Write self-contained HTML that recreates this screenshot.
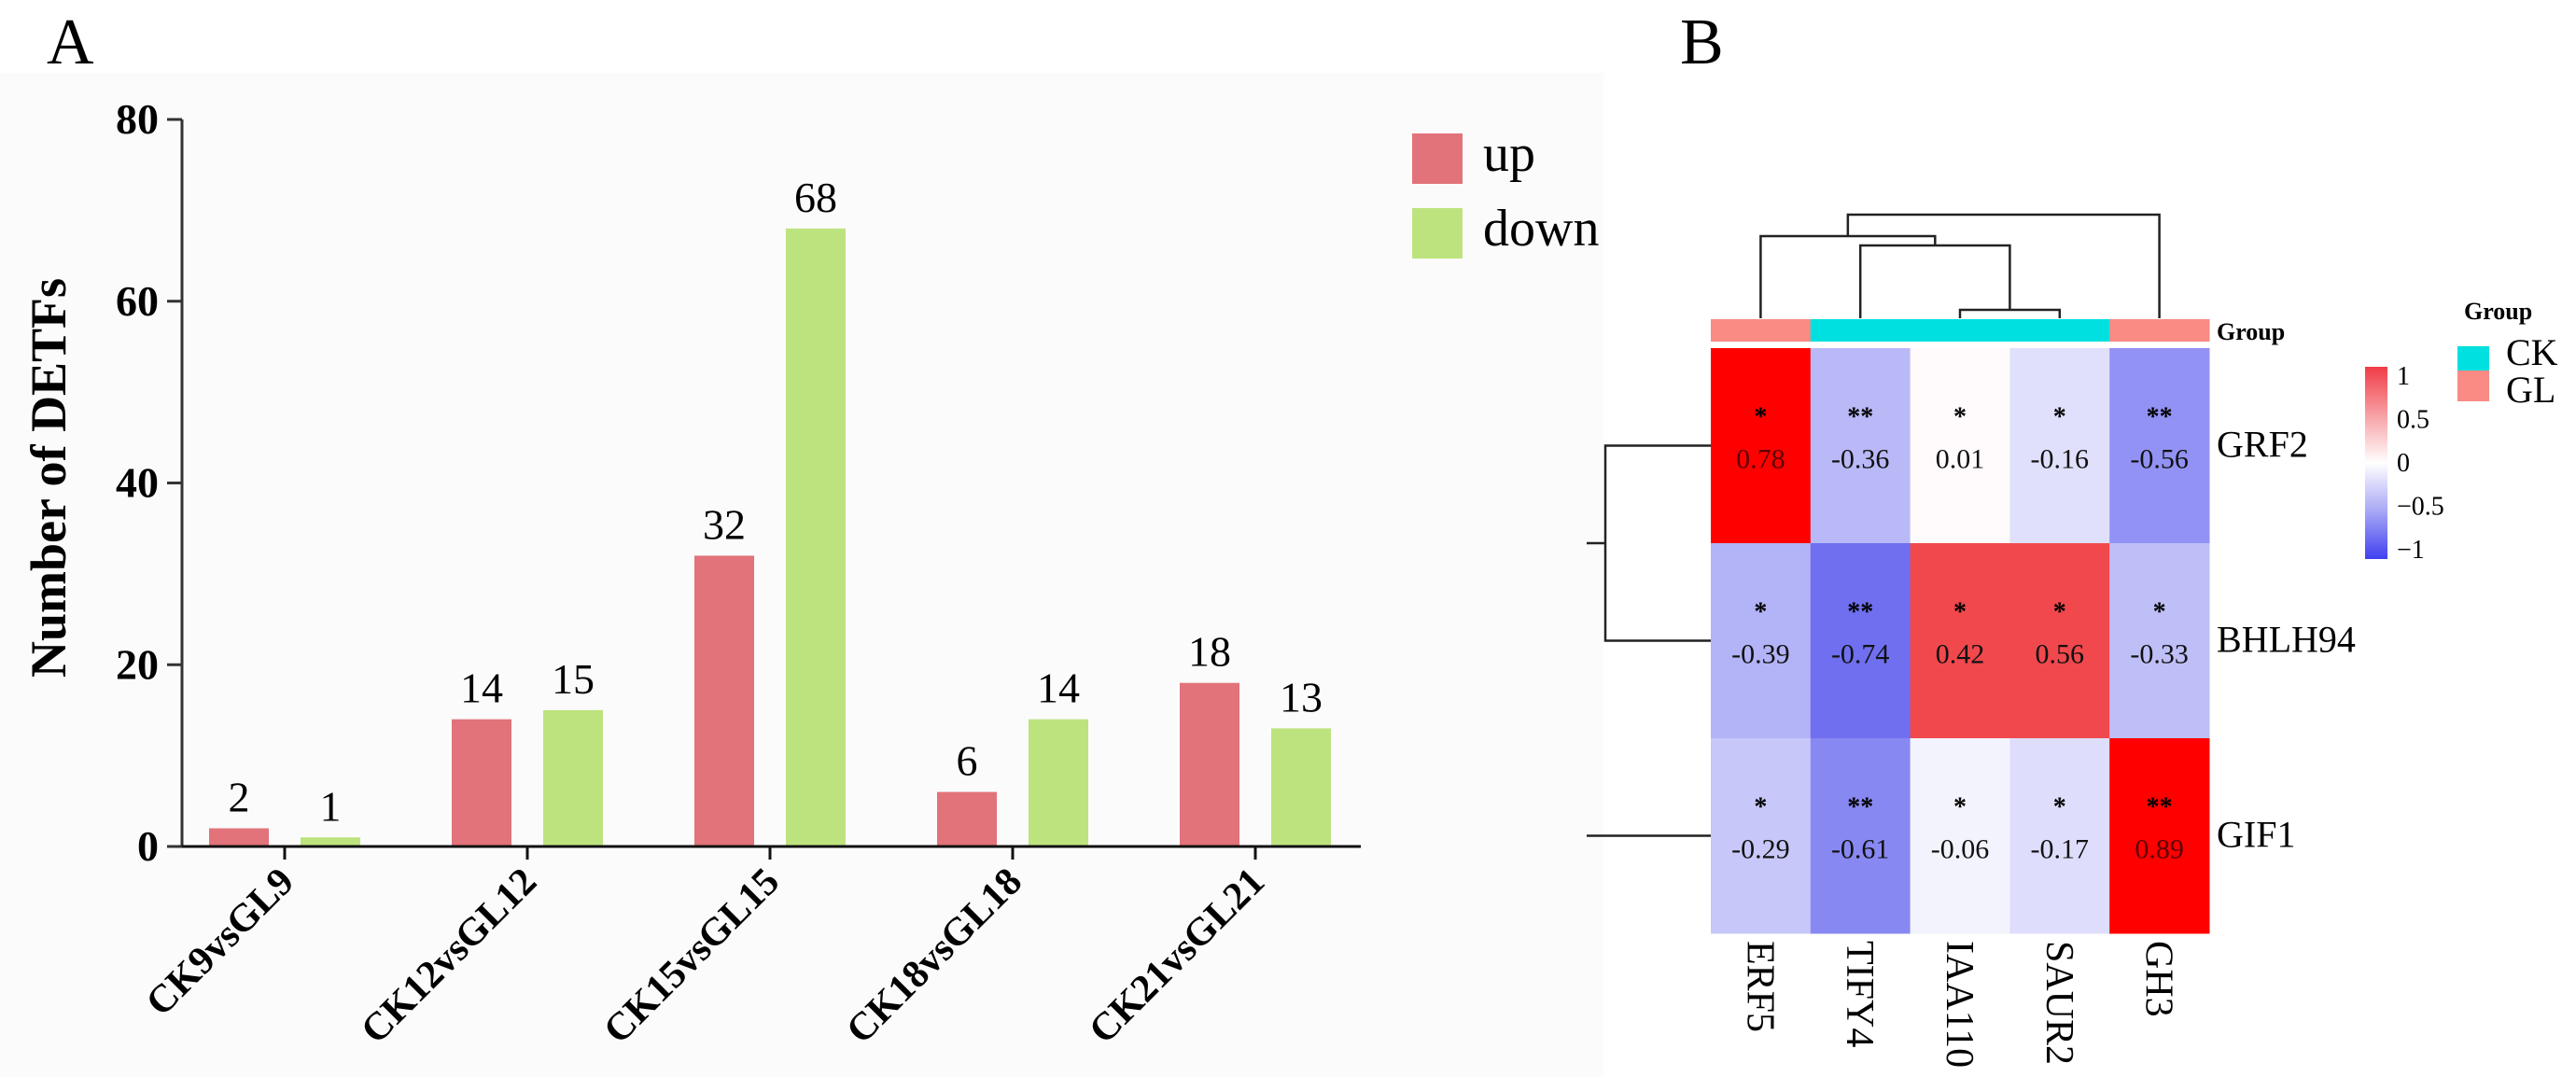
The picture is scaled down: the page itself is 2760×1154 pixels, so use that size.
<!DOCTYPE html>
<html><head><meta charset="utf-8"><style>
html,body{margin:0;padding:0;background:#fff;}
svg{display:block;}
svg text{font-family:"Liberation Serif","DejaVu Serif",serif;}
</style></head><body>
<svg id="fig" width="2760" height="1154" viewBox="0 0 2760 1154" xmlns="http://www.w3.org/2000/svg" font-family="Liberation Serif, serif">
<rect x="0" y="78" width="1718" height="1076" fill="#fbfbfb"/>
<text x="50" y="68" font-size="70">A</text>
<text x="1800" y="68" font-size="70">B</text>
<g id="barChart"></g>
<g id="heatmap"></g>
</svg>
<script>
// ---- Bar chart data ----
const categories = ["CK9vsGL9","CK12vsGL12","CK15vsGL15","CK18vsGL18","CK21vsGL21"];
const upValues = [2,14,32,6,18];
const downValues = [1,15,68,14,13];
const yTicks = [0,20,40,60,80];
// ---- Heatmap data ----
const hmCols = ["ERF5","TIFY4","IAA110","SAUR2","GH3"];
const hmRows = ["GRF2","BHLH94","GIF1"];
const hmValues = [
  [0.78,-0.36,0.01,-0.16,-0.56],
  [-0.39,-0.74,0.42,0.56,-0.33],
  [-0.29,-0.61,-0.06,-0.17,0.89]
];
const hmStars = [
  ["*","**","*","*","**"],
  ["*","**","*","*","*"],
  ["*","**","*","*","**"]
];
const colGroups = ["GL","CK","CK","CK","GL"];
const cbTicks = [1,0.5,0,-0.5,-1];
const cbTickLabels = ["1","0.5","0","\u22120.5","\u22121"];

const NS="http://www.w3.org/2000/svg";
function mk(tag,attrs,parent,txt){const e=document.createElementNS(NS,tag);for(const k in attrs)e.setAttribute(k,attrs[k]);if(tag==='text')e.setAttribute('font-family','Liberation Serif, serif');if(txt!==undefined)e.textContent=txt;parent.appendChild(e);return e;}

// ---- Bar chart ----
const bc=document.getElementById('barChart');
const y0=907, yTop=128, yMax=80;
const yScale=v=>y0-(v/yMax)*(y0-yTop);
const x0=305, step=260;
const xCenter=i=>x0+i*step;
const barW=64, off=49;
let ax=mk('line',{x1:195,y1:yTop,x2:195,y2:y0,stroke:'#333',"stroke-width":3},bc);


let xa=mk('line',{x1:180,y1:y0,x2:1458,y2:y0,stroke:'#111',"stroke-width":3},bc);


yTicks.forEach(t=>{
  const y=yScale(t);
  const tl=mk('line',{x1:179,y1:y,x2:195,y2:y,stroke:'#333',"stroke-width":3},bc);
  
  
  const tx=mk('text',{x:170,y:y+15,"font-size":46,"font-weight":"bold","text-anchor":"end"},bc,String(t));
  
  
});
const yt=mk('text',{x:0,y:0,"font-size":54,"font-weight":"bold","text-anchor":"middle",transform:"translate(70,512) rotate(-90)"},bc,"Number of  DETFs");


categories.forEach((c,i)=>{
  const cx=xCenter(i);
  const tk=mk('line',{x1:cx,y1:y0,x2:cx,y2:y0+14,stroke:'#111',"stroke-width":3},bc);
  
  
  const lb=mk('text',{x:0,y:0,"font-size":42,"font-weight":"bold","text-anchor":"end",transform:`translate(${cx+12},${y0+40}) rotate(-45)`},bc,c);
  
  
  [[upValues[i],-off,'#e2737a','bar-up'],[downValues[i],off,'#bde37e','bar-down']].forEach(([v,o,col,nm])=>{
    const yy=yScale(v);
    const r=mk('rect',{x:cx+o-barW/2,y:yy,width:barW,height:y0-yy-1.5,fill:col},bc);
    
    
    const vl=mk('text',{x:cx+o,y:yy-18,"font-size":46,"text-anchor":"middle"},bc,String(v));
    
    
  });
});
// legend
[['up','#e2737a',143],['down','#bde37e',223]].forEach(([t,c,y])=>{
  const r=mk('rect',{x:1513,y:y,width:54,height:54,fill:c},bc);
  
  
  const tx=mk('text',{x:1589,y:y+40,"font-size":56},bc,t);
  
  
});

// ---- Heatmap ----
const hm=document.getElementById('heatmap');
const hx0=1833, cw=106.8, hy0=373, rh=209;
const colX=j=>hx0+j*cw;
const rowY=i=>hy0+i*rh;
function valColor(v){
  if(v>=0){
    if(v>0.7) return 'rgb(255,0,0)';
    const t=Math.min(1,v/0.4);
    return `rgb(${Math.round(255-t*15)},${Math.round(255-t*183)},${Math.round(255-t*178)})`;
  }
  const t=Math.min(1,-v/0.9);const rg=Math.round(255-t*175);return `rgb(${rg},${rg},${Math.round(255-t*18)})`;
}
hmValues.forEach((row,i)=>{
  row.forEach((v,j)=>{
    const r=mk('rect',{x:colX(j),y:rowY(i),width:cw+0.5,height:rh+0.5,fill:valColor(v)},hm);
    
    
    const cx=colX(j)+cw/2, cy=rowY(i)+rh/2;
    const s=mk('text',{x:cx,y:cy-22,"font-size":28,"font-weight":"bold","text-anchor":"middle"},hm,hmStars[i][j]);
    
    
    const t=mk('text',{x:cx,y:cy+24,"font-size":30,"text-anchor":"middle",fill:v>0.7?'#5a0000':'#111'},hm,v.toFixed(2));
    
    
  });
});
hmRows.forEach((n,i)=>{
  const t=mk('text',{x:2375,y:rowY(i)+rh/2+12,"font-size":40},hm,n);
  
  
});
hmCols.forEach((n,j)=>{
  const cx=colX(j)+cw/2;
  const t=mk('text',{x:0,y:0,"font-size":42,transform:`translate(${cx-14},1008) rotate(90)`},hm,n);
  
  
});
// group bar
const groupColor={GL:'#f98a84',CK:'#00e0e0'};
colGroups.forEach((g,j)=>{
  const r=mk('rect',{x:colX(j),y:342,width:cw+0.5,height:24,fill:groupColor[g]},hm);
  
  
});
let gt=mk('text',{x:2375,y:364,"font-size":26,"font-weight":"bold"},hm,"Group");


// column dendrogram
const cc=j=>colX(j)+cw/2;
const dpath=`M${cc(2)},341 V332 H${cc(3)} V341 M${(cc(2)+cc(3))/2},332 V263 H${cc(1)} V341 M${(cc(1)+(cc(2)+cc(3))/2)/2},263 V253 H${cc(0)} V341 M${(cc(0)+(cc(1)+(cc(2)+cc(3))/2)/2)/2},253 V230 H${cc(4)} V341`;
let cd=mk('path',{d:dpath,fill:'none',stroke:'#222',"stroke-width":2.5},hm);


const rc=i=>rowY(i)+rh/2;
let rd=mk('path',{d:`M${hx0},${rc(0)} H1720 V${rc(1)} H${hx0} M1720,${(rc(0)+rc(1))/2} H1700 M1700,${rc(2)} H${hx0}`,fill:'none',stroke:'#222',"stroke-width":2.5},hm);


// colorbar
const defs=mk('defs',{},hm);
const lg=mk('linearGradient',{id:'cbg',x1:0,y1:0,x2:0,y2:1},defs);
[['0','#f03c46'],['0.25','#f7a0a4'],['0.5','#ffffff'],['0.75','#a8a8f5'],['1','#4040f0']].forEach(([o,c])=>mk('stop',{offset:o,"stop-color":c},lg));
const cbTop=393, cbBot=599;
let cb=mk('rect',{x:2534,y:cbTop,width:24,height:cbBot-cbTop,fill:'url(#cbg)'},hm);


const cbY=v=>cbTop+10+(1-v)/2*(cbBot-cbTop-20);
cbTicks.forEach((v,k)=>{
  const t=mk('text',{x:2568,y:cbY(v)+9,"font-size":28},hm,cbTickLabels[k]);
  
  
});
// group legend
let glt=mk('text',{x:2640,y:342,"font-size":26,"font-weight":"bold"},hm,"Group");


[['CK',371],['GL',397]].forEach(([g,y])=>{
  const r=mk('rect',{x:2633,y:y,width:34,height:g==='CK'?26:33,fill:groupColor[g]},hm);
  
  
  const t=mk('text',{x:2685,y:g==='CK'?391:431,"font-size":40},hm,g);
  
  
});
</script>
</body></html>
